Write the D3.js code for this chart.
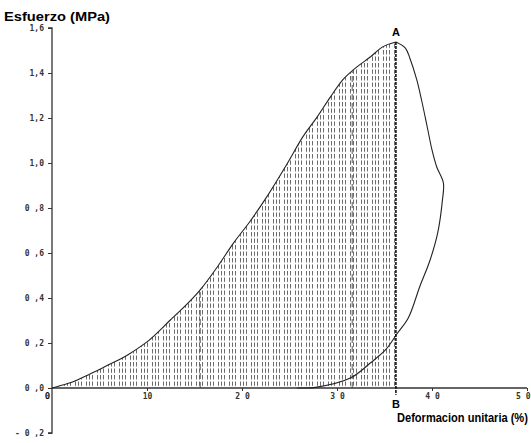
<!DOCTYPE html>
<html><head><meta charset="utf-8">
<script src="https://cdn.jsdelivr.net/npm/d3@7"></script>
<style>body{margin:0;background:#fff}svg{display:block}</style>
</head><body>
<svg id="c" width="531" height="443"></svg>
<script>
// Loading branch (strain %, stress MPa)
const loadX = [0,1,2,3,4,5,6,7,8,9,10,12.4,15.6,17.4,19.1,20.8,22.4,24.8,26.4,27.9,29.3,30.6,32.1,33.5,34.8,36.2];
const loadY = [0,0.012,0.024,0.042,0.062,0.082,0.104,0.124,0.148,0.175,0.205,0.30,0.436,0.538,0.644,0.738,0.836,1.0,1.116,1.204,1.293,1.369,1.427,1.471,1.516,1.538];
// Unloading branch
const unloadX = [36.2,37.2,37.7,38.4,38.9,39.5,40.0,40.5,41.2,41.1,40.6,39.8,38.7,37.5,36.3,35.1,33.5,31.4,27.9,25.8];
const unloadY = [1.538,1.511,1.462,1.369,1.28,1.16,1.058,0.982,0.911,0.836,0.689,0.569,0.449,0.311,0.24,0.169,0.111,0.044,0.004,0];
const yTicks = [-0.2,0,0.2,0.4,0.6,0.8,1.0,1.2,1.4,1.6];
const yTickLabels = ["- 0 ,2","0 ,0","0 ,2","0 ,4","0 ,6","0 ,8","1,0","1,2","1,4","1,6"];
const xTicks = [0,10,20,30,40,50];
const xTickLabels = ["0","10","2 0","3 0","4 0","5 0"];
const markX = [15.6,31.6];   // inner dashed markers
const pointAB = 36.2;        // A-B line
const yTitle = "Esfuerzo (MPa)";
const xTitle = "Deformacion unitaria (%)";

const svg = d3.select("#c");
const x = d3.scaleLinear().domain([0,50]).range([52,527]);
const y = d3.scaleLinear().domain([-0.2,1.6]).range([433,28]);

// hatch pattern
const defs = svg.append("defs");
const pat = defs.append("pattern").attr("id","hatch").attr("patternUnits","userSpaceOnUse")
  .attr("width",11).attr("height",6.5).attr("x",x(0)+1).attr("y",y(0));
[0.5,3.5,6.5].forEach(px=>{
  pat.append("line").attr("x1",px).attr("x2",px).attr("y1",0).attr("y2",4.5)
    .attr("stroke","#6a6a6a").attr("stroke-width",1);
});

const loadPts = loadX.map((v,i)=>[v,loadY[i]]);
const area = d3.area().x(d=>x(d[0])).y0(y(0)).y1(d=>y(d[1])).curve(d3.curveMonotoneX);
svg.append("path").datum(loadPts).attr("d",area).attr("fill","url(#hatch)");

// interior dashed markers
const interp = v => { for(let i=1;i<loadX.length;i++){ if(loadX[i]>=v){const t=(v-loadX[i-1])/(loadX[i]-loadX[i-1]); return loadY[i-1]+t*(loadY[i]-loadY[i-1]);} } return 0; };
markX.forEach(m=>{
  svg.append("line").attr("x1",x(m)).attr("x2",x(m)).attr("y1",y(0)).attr("y2",y(interp(m)))
    .attr("stroke","#555").attr("stroke-width",1).attr("stroke-dasharray","6,3");
});

// axes
const yAxis = d3.axisLeft(y).tickValues(yTicks).tickSize(4).tickFormat((d,i)=>yTickLabels[i]);
const gy = svg.append("g").attr("transform",`translate(${x(0)},0)`).call(yAxis);
gy.select(".domain").attr("stroke","#333").attr("stroke-width",1.3).attr("d",`M-4,${y(-0.2)}H0V${y(1.6)}H-4`);
gy.selectAll(".tick line").attr("stroke","#333");
gy.selectAll(".tick text").attr("x",-8).attr("fill","#333")
  .style("font","bold 8px 'DejaVu Sans Mono', monospace");

const xAxis = d3.axisBottom(x).tickValues(xTicks).tickSize(3).tickFormat((d,i)=>xTickLabels[i]);
const gx = svg.append("g").attr("transform",`translate(0,${y(0)})`).call(xAxis);
gx.select(".domain").attr("stroke","#333").attr("stroke-width",1.3).attr("d",`M${x(0)},0H${x(50)}`);
gx.selectAll(".tick line").attr("stroke","#333");
gx.selectAll(".tick text").attr("y",5).attr("fill","#333")
  .style("font","bold 8px 'DejaVu Sans Mono', monospace");
gx.selectAll(".tick").filter(d=>d===0).select("line").remove();
gx.selectAll(".tick").filter(d=>d===0).select("text").attr("x",-5).attr("fill","#111").style("font","bold 9px 'DejaVu Sans Mono', monospace");
gx.selectAll(".tick").filter(d=>d===50).select("text").attr("text-anchor","end").attr("x",3);

// curve
const line = d3.line().x(d=>x(d[0])).y(d=>y(d[1])).curve(d3.curveMonotoneX);
svg.append("path").datum(loadPts).attr("d",line).attr("fill","none").attr("stroke","#222").attr("stroke-width",1.1);
const unPts = unloadX.map((v,i)=>[v,unloadY[i]]);
svg.append("path").datum(unPts).attr("d",d3.line().x(d=>x(d[0])).y(d=>y(d[1])).curve(d3.curveCatmullRom))
  .attr("fill","none").attr("stroke","#222").attr("stroke-width",1.1);

// A-B line
svg.append("line").attr("x1",x(pointAB)).attr("x2",x(pointAB)).attr("y1",y(1.538)).attr("y2",y(-0.03))
  .attr("stroke","#111").attr("stroke-width",1.6).attr("stroke-dasharray","3,1");
svg.append("text").attr("x",x(pointAB)).attr("y",y(1.538)-6).attr("text-anchor","middle")
  .style("font","bold 11px 'Liberation Sans', Arial, sans-serif").text("A");
svg.append("text").attr("x",x(pointAB)).attr("y",408).attr("text-anchor","middle")
  .style("font","bold 11px 'Liberation Sans', Arial, sans-serif").text("B");

// titles (condensed by horizontal scaling to match the narrow bold face)
function fitTitle(txt, x0, base, width){
  const t = svg.append("text").attr("x",0).attr("y",0)
    .style("font","bold 13px 'Liberation Sans', Arial, sans-serif").text(txt);
  const w = t.node().getComputedTextLength();
  t.attr("transform",`translate(${x0},${base}) scale(${width/w},1)`);
}
fitTitle(yTitle, 4, 21, 106);
fitTitle(xTitle, 397, 422, 131);
</script>
</body></html>
